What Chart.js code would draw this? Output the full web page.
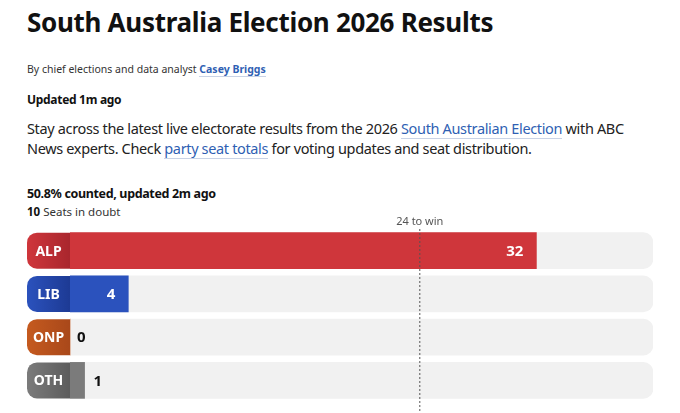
<!DOCTYPE html>
<html lang="en">
<head>
  <meta charset="UTF-8" />
  <title>South Australia Election 2026 Results</title>
  <script src="https://cdn.jsdelivr.net/npm/chart.js"></script>
  <style>
    body { margin: 0; width: 680px; height: 413px; overflow: hidden; background: #fff; font-family: "Noto Sans", sans-serif; color: #111; position: relative; }
    .t { position: absolute; left: 27px; white-space: nowrap; }
    h1 { margin: 0; font-size: 26px; font-weight: 700; top: 4px; letter-spacing: -0.3px; }
    .by { top: 62px; font-size: 10.5px; color: #333; }
    .by a { color: #2f5fb3; font-weight: 700; text-decoration: none; border-bottom: 1px solid #c9d3e6; }
    .upd { top: 91px; font-size: 12px; font-weight: 700; letter-spacing: -0.3px; }
    .intro { top: 118px; font-size: 14.5px; line-height: 20px; color: #222; letter-spacing: -0.35px; }
    .intro a { color: #2f5fb3; text-decoration: none; border-bottom: 1px solid #c9d3e6; }
    .cnt { top: 185px; font-size: 12.5px; font-weight: 700; letter-spacing: -0.35px; }
    .doubt { top: 204px; font-size: 11.5px; color: #333; }
    .doubt b { color: #111; }
    #wrap { position: absolute; left: 0; top: 215px; width: 680px; height: 198px; }
  </style>
</head>
<body>
  <h1 class="t">South Australia Election 2026 Results</h1>
  <div class="t by">By chief elections and data analyst <a href="#">Casey Briggs</a></div>
  <div class="t upd">Updated 1m ago</div>
  <div class="t intro">Stay across the latest live electorate results from the 2026 <a href="#">South Australian Election</a> with ABC<br>News experts. Check <a href="#">party seat totals</a> for voting updates and seat distribution.</div>
  <div class="t cnt">50.8% counted, updated 2m ago</div>
  <div class="t doubt"><b>10</b> Seats in doubt</div>
  <div id="wrap"><canvas id="seats"></canvas></div>

  <script>
    const parties = ['ALP', 'LIB', 'ONP', 'OTH'];
    const seats = [32, 4, 0, 1];
    const barColors = ['#cf363b', '#2b52bd', '#c55a1f', '#7b7b7b'];
    const boxColors = ['#a9262d', '#1d3a94', '#a9481a', '#5c5c5c'];
    const toWin = 24;
    const maxSeats = 40;

    // grey track behind each party bar
    const track = parties.map(() => maxSeats);

    const partyBoxes = {
      id: 'partyBoxes',
      afterDatasetsDraw(chart) {
        const ctx = chart.ctx;
        const meta = chart.getDatasetMeta(0);
        const left = chart.chartArea.left;
        meta.data.forEach((bar, i) => {
          const h = bar.height;
          const top = bar.y - h / 2;
          const x0 = left - 43;
          const g = ctx.createLinearGradient(x0, 0, left, 0);
          g.addColorStop(0, barColors[i]);
          g.addColorStop(1, boxColors[i]);
          ctx.save();
          ctx.fillStyle = g;
          ctx.beginPath();
          ctx.roundRect(x0, top, 43, h, [10, 0, 0, 10]);
          ctx.fill();
          ctx.fillStyle = '#fff';
          ctx.font = '700 14px "Noto Sans"';
          ctx.textAlign = 'center';
          ctx.textBaseline = 'middle';
          ctx.fillText(parties[i], x0 + 21.5, bar.y + 1);

          // seat count
          const v = seats[i];
          ctx.font = '700 15px "Noto Sans"';
          if (bar.x - left > 40) {
            ctx.fillStyle = '#fff';
            ctx.textAlign = 'right';
            ctx.fillText(v, bar.x - 13, bar.y + 1);
          } else {
            ctx.fillStyle = '#111';
            ctx.textAlign = 'left';
            ctx.fillText(v, bar.x + (v > 0 ? 9 : 7), bar.y + 1);
          }
          ctx.restore();
        });

        // majority line
        const x = chart.scales.x.getPixelForValue(toWin);
        ctx.save();
        ctx.strokeStyle = '#555';
        ctx.lineWidth = 1;
        ctx.setLineDash([2, 2]);
        ctx.beginPath();
        ctx.moveTo(x, chart.chartArea.top);
        ctx.lineTo(x, chart.height);
        ctx.stroke();
        ctx.fillStyle = '#555';
        ctx.font = '11px "Noto Sans"';
        ctx.textAlign = 'center';
        ctx.textBaseline = 'middle';
        ctx.fillText(toWin + ' to win', x, 7);
        ctx.restore();
      }
    };

    new Chart(document.getElementById('seats'), {
      type: 'bar',
      data: {
        labels: parties,
        datasets: [
          {
            data: seats,
            backgroundColor: barColors,
            barThickness: 36,
            borderSkipped: false,
            borderRadius: 0,
            order: 1
          },
          {
            data: track,
            backgroundColor: '#f1f1f1',
            barThickness: 36,
            borderSkipped: false,
            borderRadius: { topLeft: 0, bottomLeft: 0, topRight: 10, bottomRight: 10 },
            order: 2
          }
        ]
      },
      options: {
        indexAxis: 'y',
        responsive: true,
        maintainAspectRatio: false,
        animation: false,
        layout: { padding: { left: 70, right: 27, top: 14, bottom: 11 } },
        datasets: { bar: { grouped: false } },
        scales: {
          x: { display: false, min: 0, max: maxSeats },
          y: { display: false }
        },
        plugins: { legend: { display: false }, tooltip: { enabled: false } }
      },
      plugins: [partyBoxes]
    });
  </script>
</body>
</html>
